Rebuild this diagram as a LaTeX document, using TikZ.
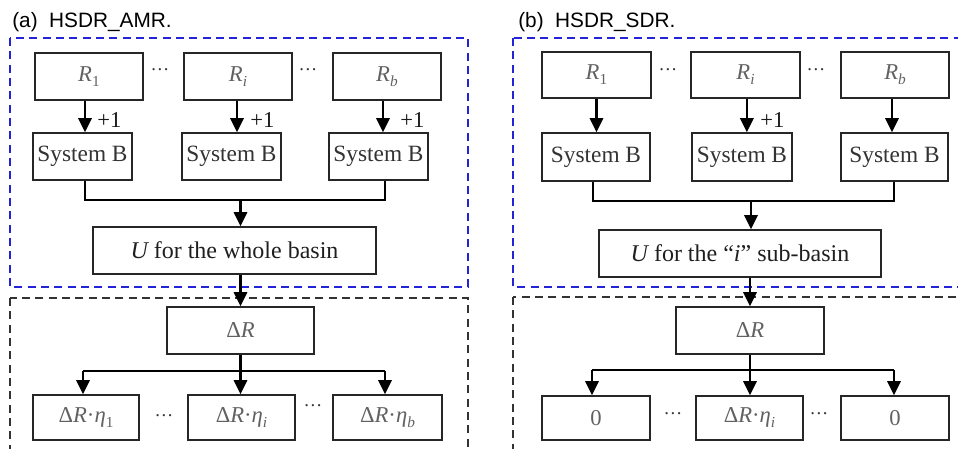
\documentclass[tikz,border=0pt]{standalone}
\usepackage{fontspec}
\setmainfont{Liberation Serif}
\newfontfamily\titlefont{Liberation Sans}
\usetikzlibrary{arrows.meta}
\definecolor{dblue}{RGB}{35,35,215}
\newcommand{\lsub}[1]{\raisebox{-0.22em}{\fontsize{11.5}{11.5}\selectfont #1}}
\begin{document}
\begin{tikzpicture}[x=0.75pt,y=-0.75pt,
  box/.style={draw=black!85, line width=1.2pt, inner sep=0pt, minimum height=35.25pt},
  rlab/.style={text=black!62, font=\fontsize{17}{17}\selectfont},
  sblab/.style={text=black!80, font=\fontsize{17.5}{17.5}\selectfont},
  ulab/.style={text=black!88, font=\fontsize{18}{18}\selectfont},
  arr/.style={line width=1.7pt, draw=black, -{Triangle[length=10.5pt,width=10pt]}},
  ln/.style={line width=1.2pt, draw=black},
  hln/.style={line width=1.6pt, draw=black},
  bluedash/.style={draw=dblue, line width=1.3pt, dash pattern=on 6pt off 4pt},
  blackdash/.style={draw=black!80, line width=1.3pt, dash pattern=on 6pt off 4pt},
  dotlab/.style={text=black!80, font=\fontsize{14}{14}\selectfont, inner sep=0pt},
  pluslab/.style={text=black!90, font=\fontsize{17}{17}\selectfont, inner sep=0pt, anchor=west},
  ttl/.style={font=\titlefont\fontsize{15.6}{15.6}\selectfont, anchor=base west, inner sep=0pt}
]
\useasboundingbox (0,0) rectangle (958,449);
\clip (0,0) rectangle (958,449);

% ===== Panel (a) =====
\node[ttl] (ta) at (12,28) {(a)\ \ HSDR\_AMR.};
\draw[bluedash] (10,38) rectangle (468,287);
\draw[blackdash] (10,298) rectangle (468,470);

\node[box, rlab, minimum width=81pt] (ra1) at (89,76.5) {\itshape R\lsub{\upshape 1}};
\node[box, rlab, minimum width=81pt] (ra2) at (238,76.5) {\itshape R\lsub{i}};
\node[box, rlab, minimum width=81pt] (ra3) at (387,76.5) {\itshape R\lsub{b}};
\node[dotlab] (da1) at (160,70) {…};
\node[dotlab] (da2) at (308,70) {…};

\node[box, sblab, minimum width=74.25pt] (sa1) at (82.5,156.5) {System B};
\node[box, sblab, minimum width=74.25pt] (sa2) at (231.5,156.5) {System B};
\node[box, sblab, minimum width=74.25pt] (sa3) at (378.5,156.5) {System B};

\draw[arr] ([xshift=-3pt]ra1.south) -- ([xshift=-3pt]ra1.south |- sa1.north);
\draw[arr] ([xshift=-0.75pt]ra2.south) -- ([xshift=-0.75pt]ra2.south |- sa2.north);
\draw[arr] ([xshift=-3pt]ra3.south) -- ([xshift=-3pt]ra3.south |- sa3.north);
\node[pluslab] (pa1) at (97,120) {+1};
\node[pluslab] (pa2) at (250,120) {+1};
\node[pluslab] (pa3) at (400,120) {+1};

\node[box, ulab, minimum width=212.25pt] (ua) at (234.5,250.5) {{\itshape U} for the whole basin};
\coordinate (ja) at (240.5,200);
\draw[ln] ([xshift=2pt]sa1.south) |- (ja) -| ([xshift=5pt]sa3.south);
\draw[arr] (ja) -- (ja |- ua.north);

\node[box, rlab, minimum width=110.25pt] (dra) at (240.5,330.5) {Δ{\itshape R}};
\draw[arr] (dra.north |- ua.south) -- (dra.north);

\node[box, rlab, minimum width=79.5pt, minimum height=33.75pt] (ba1) at (86,417.5) {Δ{\itshape R}·{\itshape η}\lsub{1}};
\node[box, rlab, minimum width=80.25pt, minimum height=33.75pt] (ba2) at (241.5,417.5) {Δ{\itshape R}·{\itshape η}\lsub{\itshape i}};
\node[box, rlab, minimum width=81.75pt, minimum height=33.75pt] (ba3) at (387.5,417.5) {Δ{\itshape R}·{\itshape η}\lsub{\itshape b}};
\node[dotlab] (db1) at (164,416) {…};
\node[dotlab] (db2) at (313,406) {…};
\coordinate (ka1) at (83,371);
\coordinate (ka3) at (385,371);
\draw[hln] (ka1) -- (ka3);
\draw[arr] (dra.south) -- (dra.south |- ba2.north);
\draw[arr] (ka1) -- (ka1 |- ba1.north);
\draw[arr] (ka3) -- (ka3 |- ba3.north);

% ===== Panel (b) =====
\node[ttl] (tb) at (518,28) {(b)\ \ HSDR\_SDR.};
\draw[bluedash] (513,38) rectangle (975,287);
\draw[blackdash] (513,297) rectangle (975,470);

\node[box, rlab, minimum width=81.75pt, minimum height=34.5pt] (rb1) at (596.5,75) {\itshape R\lsub{\upshape 1}};
\node[box, rlab, minimum width=81.75pt, minimum height=34.5pt] (rb2) at (745.5,75) {\itshape R\lsub{i}};
\node[box, rlab, minimum width=81pt, minimum height=34.5pt] (rb3) at (895,75) {\itshape R\lsub{b}};
\node[dotlab] (dc1) at (668,70) {…};
\node[dotlab] (dc2) at (816,70) {…};

\node[box, sblab, minimum width=81pt, minimum height=36pt] (sb1) at (596,157) {System B};
\node[box, sblab, minimum width=75pt, minimum height=36pt] (sb2) at (742,157) {System B};
\node[box, sblab, minimum width=80.25pt, minimum height=36pt] (sb3) at (894.5,157) {System B};

\draw[arr] (rb1.south) -- (rb1.south |- sb1.north);
\draw[arr] ([xshift=1pt]rb2.south) -- ([xshift=1pt]rb2.south |- sb2.north);
\draw[arr] ([xshift=-2.25pt]rb3.south) -- ([xshift=-2.25pt]rb3.south |- sb3.north);
\node[pluslab] (pb2) at (760,120) {+1};

\node[box, ulab, minimum width=211.5pt] (ub) at (740,253.5) {{\itshape U} for the “{\itshape i}” sub-basin};
\coordinate (jb) at (751,201);
\draw[ln] ([xshift=-2.25pt]sb1.south) |- (jb) -| ([xshift=-0.375pt]sb3.south);
\draw[arr] (jb) -- (jb |- ub.north);

\node[box, rlab, minimum width=111pt] (drb) at (750,330.5) {Δ{\itshape R}};
\draw[arr] (drb.north |- ub.south) -- (drb.north);

\node[box, rlab, minimum width=81pt, minimum height=33pt] (bb1) at (596,418) {0};
\node[box, rlab, minimum width=80.25pt, minimum height=33pt] (bb2) at (749.5,418) {Δ{\itshape R}·{\itshape η}\lsub{\itshape i}};
\node[box, rlab, minimum width=81pt, minimum height=33pt] (bb3) at (895,418) {0};
\node[dotlab] (dd1) at (673,414) {…};
\node[dotlab] (dd2) at (819,414) {…};
\coordinate (kb1) at (592,370);
\coordinate (kb3) at (894,370);
\draw[hln] (kb1) -- (kb3);
\draw[arr] (drb.south) -- (drb.south |- bb2.north);
\draw[arr] (kb1) -- (kb1 |- bb1.north);
\draw[arr] (kb3) -- (kb3 |- bb3.north);
\end{tikzpicture}
\end{document}
